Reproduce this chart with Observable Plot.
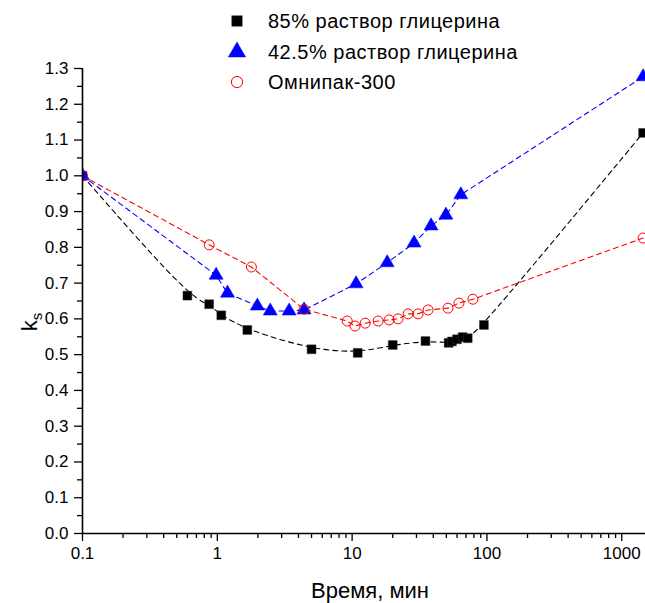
<!DOCTYPE html>
<html>
<head>
<meta charset="utf-8">
<script src="https://cdn.jsdelivr.net/npm/d3@7"></script>
<script src="https://cdn.jsdelivr.net/npm/@observablehq/plot@0.6"></script>
<style>
  html, body { margin: 0; padding: 0; background: #fff; }
  #chart { position: relative; width: 645px; height: 603px; overflow: hidden; }
  svg { font-family: "Liberation Sans", Arial, sans-serif; }
</style>
</head>
<body>
<div id="chart"></div>
<script>
// ---- data ----
const seriesNames = ["85% раствор глицерина", "42.5% раствор глицерина", "Омнипак-300"];

const t85 = [0.1, 0.6, 0.87, 1.07, 1.67, 5, 11, 20, 35, 52, 55, 60, 66, 72, 95, 1440];
const k85 = [1.0, 0.665, 0.641, 0.61, 0.569, 0.515, 0.505, 0.527, 0.538, 0.533, 0.537, 0.543, 0.549, 0.546, 0.583, 1.12];

const t42 = [0.1, 0.98, 1.19, 1.98, 2.47, 3.41, 4.4, 10.7, 18.2, 28.8, 38.5, 49.6, 64, 1440];
const k42 = [1.0, 0.722, 0.672, 0.636, 0.622, 0.622, 0.625, 0.698, 0.757, 0.812, 0.86, 0.89, 0.947, 1.277];

const tOmn = [0.1, 0.87, 1.79, 4.4, 9.2, 10.5, 12.5, 15.6, 18.8, 21.9, 26, 30.8, 36.6, 51.4, 62, 78.7, 1440];
const kOmn = [1.0, 0.807, 0.745, 0.627, 0.594, 0.58, 0.588, 0.594, 0.597, 0.6, 0.614, 0.614, 0.625, 0.63, 0.644, 0.655, 0.826];

const xMajor = [0.1, 1, 10, 100, 1000];
const xMajorLabels = ["0.1", "1", "10", "100", "1000"];
const yMajor = [0, 0.1, 0.2, 0.3, 0.4, 0.5, 0.6, 0.7, 0.8, 0.9, 1.0, 1.1, 1.2, 1.3];
const yLabels = ["0.0","0.1","0.2","0.3","0.4","0.5","0.6","0.7","0.8","0.9","1.0","1.1","1.2","1.3"];
const xTitle = "Время, мин";

// ---- build ----
const toRows = (ts, ks) => ts.map((t, i) => ({t, k: ks[i]}));
const d85 = toRows(t85, k85), d42 = toRows(t42, k42), dOmn = toRows(tOmn, kOmn);

const xMinor = [];
for (const d of xMajor) for (let m = 2; m <= 9; m++) { const v = d * m; if (v <= 1500) xMinor.push(v); }
const yMinor = yMajor.slice(0, -1).map(v => v + 0.05);

const dash = "5,4";
const plot = Plot.plot({
  width: 645, height: 603,
  marginLeft: 82, marginRight: 0, marginTop: 68, marginBottom: 70,
  style: {fontFamily: "Liberation Sans, Arial, sans-serif", fontSize: "17px", background: "white", overflow: "hidden"},
  x: {type: "log", domain: [0.1, 1500]},
  y: {domain: [0, 1.3]},
  marks: [
    Plot.axisX({ticks: xMajor, tickFormat: (d) => xMajorLabels[xMajor.indexOf(d)], tickSize: 8, tickPadding: 5, strokeWidth: 1.3, label: null, fontSize: 17}),
    Plot.axisX({ticks: xMinor, tickFormat: () => "", tickSize: 5, strokeWidth: 1.3, label: null}),
    Plot.axisY({ticks: yMajor, tickFormat: d => yLabels[Math.round(d * 10)], tickSize: 8, tickPadding: 6, strokeWidth: 1.3, label: null, fontSize: 17}),
    Plot.axisY({ticks: yMinor, tickFormat: () => "", tickSize: 5, strokeWidth: 1.3, label: null}),
    Plot.line(d85, {x: "t", y: "k", stroke: "black", strokeWidth: 1.1, strokeDasharray: dash, curve: "basis"}),
    Plot.line(d42, {x: "t", y: "k", stroke: "blue", strokeWidth: 1.1, strokeDasharray: dash}),
    Plot.line(dOmn, {x: "t", y: "k", stroke: "red", strokeWidth: 1.1, strokeDasharray: dash}),
    Plot.dot(d85, {x: "t", y: "k", symbol: "square", r: 5, fill: "black", stroke: "#333", strokeWidth: 0.5, clip: true}),
    Plot.dot(d42, {x: "t", y: "k", symbol: "triangle", r: 5.2, fill: "blue", stroke: "blue", strokeWidth: 0.5, clip: true}),
    Plot.dot(dOmn, {x: "t", y: "k", symbol: "circle", r: 5, fill: "none", stroke: "red", strokeWidth: 1, clip: true}),
    Plot.ruleY([0], {stroke: "black", strokeWidth: 1.6}),
    Plot.ruleX([0.1], {stroke: "black", strokeWidth: 1.6})
  ]
});
document.getElementById("chart").appendChild(plot);

// axis titles and legend
const svg = d3.select(plot);
svg.append("text").attr("x", 370).attr("y", 598).attr("text-anchor", "middle")
  .attr("font-size", 22).attr("fill", "black").text(xTitle);
const ky = svg.append("text").attr("transform", "translate(37,322) rotate(-90)")
  .attr("text-anchor", "middle").attr("font-size", 22).attr("fill", "black");
ky.append("tspan").text("k");
ky.append("tspan").attr("font-size", 15).attr("dy", 5).text("s");

const lg = svg.append("g");
const rowsY = [21, 52, 82];
const sym = [d3.symbolSquare, d3.symbolTriangle, d3.symbolCircle];
const sizes = [110, 130, 100];
const fills = ["black", "blue", "none"];
const strokes = ["#333", "blue", "red"];
seriesNames.forEach((name, i) => {
  lg.append("path").attr("d", d3.symbol(sym[i], sizes[i])())
    .attr("transform", `translate(237,${rowsY[i]})`)
    .attr("fill", fills[i]).attr("stroke", strokes[i]).attr("stroke-width", i === 2 ? 1 : 0.5);
  lg.append("text").attr("x", 268).attr("y", rowsY[i] + 7).attr("text-anchor", "start")
    .attr("font-size", 20).attr("letter-spacing", 0.5).attr("fill", "black").text(name);
});
</script>
</body>
</html>
